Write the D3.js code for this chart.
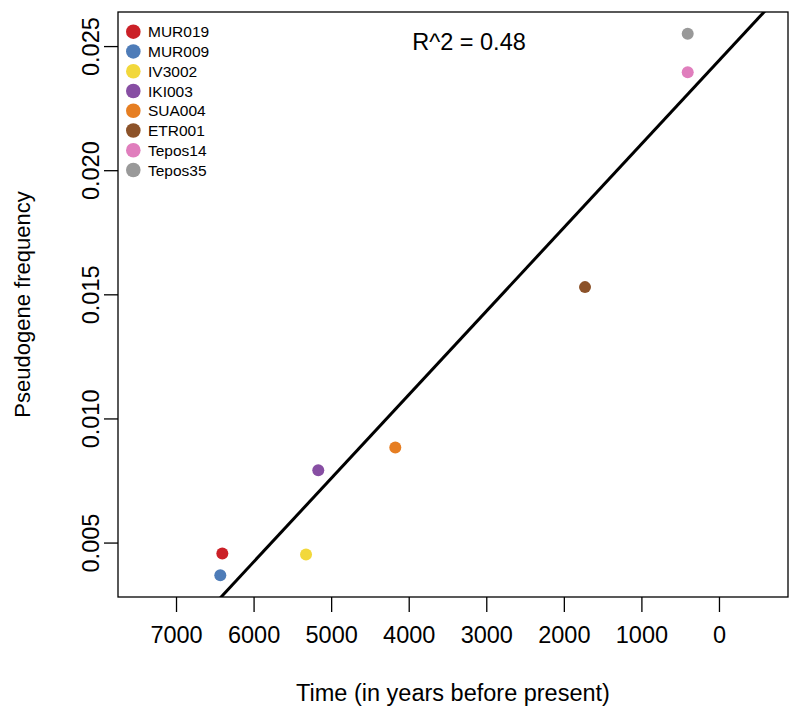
<!DOCTYPE html>
<html>
<head>
<meta charset="utf-8">
<script src="https://cdn.jsdelivr.net/npm/d3@7"></script>
<style>
  html, body { margin: 0; padding: 0; background: #fff; }
  text { font-family: "Liberation Sans", Arial, Helvetica, sans-serif; fill: #000; }
</style>
</head>
<body>
<div id="chart"></div>
<script>
// ---- data ----
const samples = ["MUR019", "MUR009", "IV3002", "IKI003", "SUA004", "ETR001", "Tepos14", "Tepos35"];
const years   = [6403, 6429, 5324, 5166, 4173, 1727, 403, 403];
const freqs   = [0.00456, 0.00368, 0.00452, 0.00791, 0.00883, 0.01529, 0.02395, 0.02550];
const colors  = ["#cb2027", "#4e7cb8", "#f2d83b", "#874ea3", "#e67e22", "#8c5229", "#e07ebd", "#999999"];
const xTicks  = [7000, 6000, 5000, 4000, 3000, 2000, 1000, 0];
const yTicks  = [0.005, 0.010, 0.015, 0.020, 0.025];
const r2Label = "R^2 = 0.48";

const W = 800, H = 722;
const box = { left: 118, right: 788, top: 12, bottom: 597 };
const FS = 23.5;

const svg = d3.select("#chart").append("svg")
  .attr("width", W).attr("height", H);

const x = d3.scaleLinear().domain([7748, -890]).range([box.left, box.right]);
const ymin = d3.min(freqs), ymax = d3.max(freqs), ext = (ymax - ymin) * 0.04;
const y = d3.scaleLinear().domain([ymin - ext, ymax + ext]).range([box.bottom, box.top]);

// clip
svg.append("defs").append("clipPath").attr("id", "clip")
  .append("rect").attr("x", box.left).attr("y", box.top)
  .attr("width", box.right - box.left).attr("height", box.bottom - box.top);

// regression line (least squares from data)
const mx = d3.mean(years), my = d3.mean(freqs);
let sxy = 0, sxx = 0;
years.forEach((v, i) => { sxy += (v - mx) * (freqs[i] - my); sxx += (v - mx) * (v - mx); });
const slope = sxy / sxx, intercept = my - slope * mx;
const xd = x.domain();
svg.append("line")
  .attr("clip-path", "url(#clip)")
  .attr("x1", x(xd[0])).attr("y1", y(intercept + slope * xd[0]))
  .attr("x2", x(xd[1])).attr("y2", y(intercept + slope * xd[1]))
  .attr("stroke", "#000").attr("stroke-width", 3);

// points
svg.append("g").selectAll("circle").data(samples).join("circle")
  .attr("cx", (d, i) => x(years[i]))
  .attr("cy", (d, i) => y(freqs[i]))
  .attr("r", 6)
  .attr("fill", (d, i) => colors[i]);

// box
svg.append("rect")
  .attr("x", box.left).attr("y", box.top)
  .attr("width", box.right - box.left).attr("height", box.bottom - box.top)
  .attr("fill", "none").attr("stroke", "#000").attr("stroke-width", 1.3);

// x axis
const xAxis = d3.axisBottom(x).tickValues(xTicks).tickSize(15).tickPadding(14)
  .tickFormat(d3.format("d"));
const gx = svg.append("g").attr("transform", `translate(0,${box.bottom})`).call(xAxis);
gx.select(".domain").remove();
gx.selectAll(".tick line").attr("stroke", "#000").attr("stroke-width", 1.3);
gx.selectAll(".tick text").attr("font-size", FS).attr("font-family", "Liberation Sans, Arial, sans-serif");

// y axis
const yAxis = d3.axisLeft(y).tickValues(yTicks).tickSize(14).tickPadding(0)
  .tickFormat(d3.format(".3f"));
const gy = svg.append("g").attr("transform", `translate(${box.left},0)`).call(yAxis);
gy.select(".domain").remove();
gy.selectAll(".tick line").attr("stroke", "#000").attr("stroke-width", 1.3);
gy.selectAll(".tick text")
  .attr("font-size", FS).attr("font-family", "Liberation Sans, Arial, sans-serif")
  .attr("x", 0).attr("dy", 0)
  .attr("text-anchor", "middle")
  .attr("transform", "translate(-19,0) rotate(-90)");

// axis titles
svg.append("text").attr("x", (box.left + box.right) / 2).attr("y", 701)
  .attr("text-anchor", "middle").attr("font-size", FS)
  .text("Time (in years before present)");
svg.append("text")
  .attr("transform", `translate(30,${(box.top + box.bottom) / 2}) rotate(-90)`)
  .attr("text-anchor", "middle").attr("font-size", 22)
  .text("Pseudogene frequency");

// R^2 label
svg.append("text").attr("x", 469).attr("y", 50)
  .attr("text-anchor", "middle").attr("font-size", FS).text(r2Label);

// legend
const lg = svg.append("g");
samples.forEach((s, i) => {
  const cy = 31.7 + i * 19.76;
  lg.append("circle").attr("cx", 133.3).attr("cy", cy).attr("r", 7.3).attr("fill", colors[i]);
  lg.append("text").attr("x", 148).attr("y", cy).attr("dy", "0.36em")
    .attr("font-size", 15.5).text(s);
});
</script>
</body>
</html>
